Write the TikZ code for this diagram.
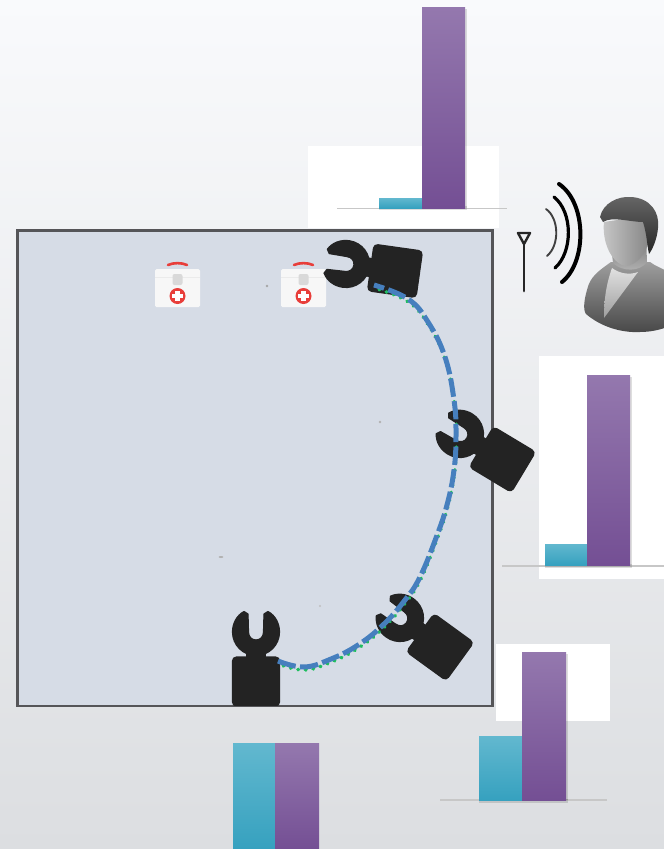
\documentclass[tikz,border=0pt]{standalone}
\definecolor{ptop}{RGB}{148,120,174}
\definecolor{pbot}{RGB}{116,79,148}
\definecolor{ctop}{RGB}{98,184,207}
\definecolor{cbot}{RGB}{54,161,191}
\definecolor{panel}{RGB}{214,220,230}
\definecolor{edgec}{RGB}{85,85,88}
\definecolor{robotc}{RGB}{35,35,35}
\definecolor{curveb}{RGB}{70,127,190}
\definecolor{curveg}{RGB}{30,190,95}
\definecolor{kitred}{RGB}{232,62,58}
\definecolor{bgtop}{RGB}{249,250,252}
\definecolor{bgmid}{RGB}{234,237,241}
\definecolor{bgbot}{RGB}{220,222,225}
\tikzset{
  x=1pt,y=-1pt,
  purplebar/.style={top color=ptop,bottom color=pbot,draw=none},
  cyanbar/.style={top color=ctop,bottom color=cbot,draw=none},
  barshadow/.style={fill=black,opacity=.13,draw=none},
  baseline/.style={draw=black!22,line width=1.2pt},
  whitebox/.style={fill=white,draw=none},
  robotpart/.style={fill=robotc,draw=robotc,line width=1.2pt,line join=round},
  wave/.style={draw=black,line cap=round},
  robot/.pic={
    \path[robotpart,rounded corners=4pt] (-23.5,25) rectangle (23.5,74);
    \path[robotpart] (-9,19) rectangle (9,28);
    \path[robotpart] (12,-20.5) .. controls (19.4,-16.5) and (23.5,-8.5) .. (23.5,0)
      .. controls (23.5,13) and (13,23.5) .. (0,23.5)
      .. controls (-13,23.5) and (-23.5,13) .. (-23.5,0)
      .. controls (-23.5,-8.5) and (-19.4,-16.5) .. (-12,-20.5)
      -- (-8,-18) -- (-7.5,0) .. controls (-7.5,4.5) and (-4.5,8) .. (0,8)
      .. controls (4.5,8) and (7.5,4.5) .. (7.5,0) -- (8,-18) -- cycle;
  },
  medkit/.pic={
    \fill[white!97!black,rounded corners=1.5pt] (-22.5,-19) rectangle (22.5,19);
    \draw[black!8,line width=.8pt] (-22.5,-11) -- (22.5,-11);
    \fill[black!15,rounded corners=2pt] (-5,-14) rectangle (5,-3);
    \draw[kitred,line width=2.6pt,line cap=round] (-9.5,-23) .. controls (-4,-25.5) and (4,-25.5) .. (9.5,-23);
    \fill[kitred] (0,8) circle[radius=8];
    \fill[white] (-2.3,2.8) rectangle (2.3,13.2);
    \fill[white] (-5.2,5.7) rectangle (5.2,10.3);
  },
}
\begin{document}
\begin{tikzpicture}
\useasboundingbox (0,0) rectangle (664,849);
% page background
\path[top color=bgtop,middle color=bgmid,bottom color=bgbot,draw=none] (0,0) rectangle (664,849);
% white chart backgrounds
\path[whitebox] (308,146) rectangle (499,228);
\path[whitebox] (539,356) rectangle (664,579);
\path[whitebox] (496,644) rectangle (610,721);
% top chart
\draw[baseline] (337,208.5) -- (507,208.5);
\path[barshadow] (379,206) rectangle (467,210);
\path[barshadow] (465,9) rectangle (467,208);
\path[cyanbar] (379,198) rectangle (422,208);
\path[purplebar] (422,7) rectangle (465,208);
% right chart
\draw[baseline] (502,566) -- (664,566);
\path[barshadow] (545,564) rectangle (632,568);
\path[barshadow] (630,377) rectangle (632,565);
\path[cyanbar] (545,544) rectangle (587,565);
\path[purplebar] (587,375) rectangle (630,565);
% lower chart
\draw[baseline] (440,800) -- (607,800);
\path[barshadow] (479,799) rectangle (568,803);
\path[barshadow] (566,654) rectangle (568,800);
\path[cyanbar] (479,736) rectangle (522,800);
\path[purplebar] (522,652) rectangle (566,800);
% bottom chart
\path[cyanbar] (233,743) rectangle (275,849);
\path[purplebar] (275,743) rectangle (319,849);
% arena
\path[fill=panel,draw=edgec,line width=2.4pt] (17.5,230.5) rectangle (492.5,706);
% specks
\fill[black!35] (267,286) circle[radius=1.3];
\fill[black!30] (380,422) circle[radius=1.3];
\fill[black!30] (221,557) ellipse[x radius=2.4,y radius=1];
\fill[black!25] (320,606) circle[radius=1.2];
% med kits
\pic at (177.5,288) {medkit};
\pic at (303.5,288) {medkit};
% robots
\begin{scope}
\clip (0,0) rectangle (664,705);
\pic at (256,632) {robot};
\end{scope}
\pic[rotate=82] at (346,264) {robot};
\pic[rotate=59] at (460,434) {robot};
\pic[rotate=54] at (400,618) {robot};
% trajectory
\def\trajectory{plot[smooth,tension=.7] coordinates {(278,661) (304,667) (331,659) (358,645) (383,625) (405,600) (420,577) (436,538) (447,505) (454,470) (456,435) (454,400) (445,357) (428,322) (408,299) (374,285)}}
\draw[curveg,line width=3.6pt,line cap=round,dash pattern=on .6pt off 7pt,dash phase=2.5pt,xshift=.4pt,yshift=-3pt] \trajectory;
\draw[curveb,line width=5pt,dash pattern=on 18.4pt off 4.4pt] \trajectory;
% antenna
\draw[black!85,line width=2.4pt,line join=round] (518,233) -- (530,233) -- (524,244) -- cycle;
\draw[black!85,line width=2.8pt,line cap=round] (524,244) -- (524,291);
% signal waves
\draw[wave,black!75,line width=1.9pt] (546,209) .. controls (559,218) and (560,245) .. (547,256);
\draw[wave,line width=3.2pt] (554,197) .. controls (573,212) and (573,252) .. (555,268);
\draw[wave,line width=4pt] (559,184) .. controls (587,203) and (587,262) .. (562,282);
% person
\begin{scope}
\clip (575,180) rectangle (664,340);
\path[top color=black!38,bottom color=black!72,draw=none] (611,262) .. controls (600,270) and (590,276) .. (587,290)
  .. controls (584,300) and (583,310) .. (586,314) .. controls (600,326) and (620,333) .. (640,332)
  .. controls (650,332) and (660,330) .. (670,326) -- (670,273) .. controls (662,268) and (655,266) .. (650,262) -- cycle;
\path[top color=black!12,bottom color=black!38,draw=none] (612,268) .. controls (620,274) and (630,275) .. (638,272)
  -- (604,318) .. controls (604,300) and (606,285) .. (612,268) -- cycle;
\path[top color=black!55,bottom color=black!30,draw=none] (610,235) -- (646,235) -- (647,262) .. controls (640,272) and (622,272) .. (613,263) -- cycle;
\path[left color=black!22,right color=black!48,draw=none] (604,222) .. controls (602,240) and (610,262) .. (625,266)
  .. controls (637,266) and (647,252) .. (650,238) -- (650,215) -- cycle;
\path[top color=black!60,bottom color=black!85,draw=none] (600,217) .. controls (603,203) and (618,196) .. (631,197)
  .. controls (650,198) and (660,212) .. (658,228) .. controls (657,240) and (652,250) .. (649,254)
  .. controls (647,245) and (647,235) .. (643,222) .. controls (630,222) and (612,216) .. (603,222) -- cycle;
\end{scope}
\end{tikzpicture}
\end{document}
